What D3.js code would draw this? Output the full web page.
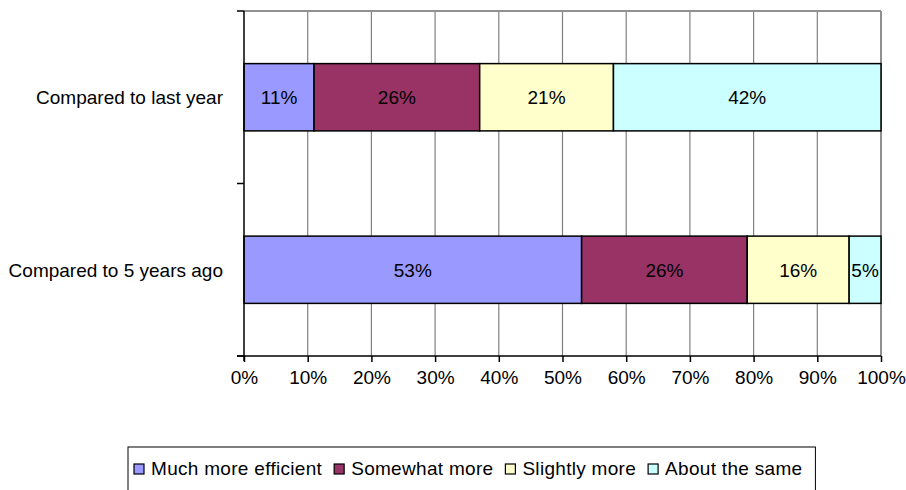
<!DOCTYPE html>
<html>
<head>
<meta charset="utf-8">
<script src="https://cdn.jsdelivr.net/npm/d3@7"></script>
<style>
  html, body { margin: 0; padding: 0; background: #fff; }
  svg text { font-family: "Liberation Sans", Arial, sans-serif; fill: #000; }
</style>
</head>
<body>
<svg id="chart" width="906" height="490"></svg>
<script>
// Survey categories (top to bottom) and stacked shares in percent
const categories = ["Compared to last year", "Compared to 5 years ago"];
const seriesNames = ["Much more efficient", "Somewhat more", "Slightly more", "About the same"];
const muchMore   = [11, 53];
const somewhat   = [26, 26];
const slightly   = [21, 16];
const aboutSame  = [42, 5];
const xTicks = [0, 10, 20, 30, 40, 50, 60, 70, 80, 90, 100];
const colors = ["#9999FF", "#993366", "#FFFFCC", "#CCFFFF"];

const seriesValues = [muchMore, somewhat, slightly, aboutSame];
const rows = categories.map((c, i) => {
  const r = { category: c };
  seriesNames.forEach((s, k) => r[s] = seriesValues[k][i]);
  return r;
});

const svg = d3.select("#chart");
const margin = { left: 244, right: 25, top: 11, bottom: 134 };
const W = 906, H = 490;
const FS = 19;

const x = d3.scaleLinear().domain([0, 100]).range([margin.left, W - margin.right]);
const y = d3.scaleBand().domain(categories)
  .range([margin.top, H - margin.bottom])
  .paddingInner(0.61).paddingOuter(0.305);

// Gridlines
svg.append("g").selectAll("line").data(xTicks.slice(1)).join("line")
  .attr("x1", d => x(d)).attr("x2", d => x(d))
  .attr("y1", margin.top).attr("y2", H - margin.bottom)
  .attr("stroke", "#808080").attr("stroke-width", 1.2);
// Plot-area top and right border
svg.append("line")
  .attr("x1", x(0)).attr("x2", x(100))
  .attr("y1", margin.top).attr("y2", margin.top)
  .attr("stroke", "#909090").attr("stroke-width", 2);
svg.append("line")
  .attr("x1", x(100)).attr("x2", x(100))
  .attr("y1", margin.top).attr("y2", H - margin.bottom)
  .attr("stroke", "#909090").attr("stroke-width", 2);

// Stacked bars
const layers = d3.stack().keys(seriesNames)(rows);
const layerG = svg.append("g").selectAll("g").data(layers).join("g")
  .attr("fill", (d, i) => colors[i]);
layerG.selectAll("rect").data(d => d).join("rect")
  .attr("x", d => x(d[0]))
  .attr("width", d => x(d[1]) - x(d[0]))
  .attr("y", d => y(d.data.category))
  .attr("height", y.bandwidth())
  .attr("stroke", "#000").attr("stroke-width", 1.5);

// Value labels
layerG.selectAll("text").data(d => d.map(v => ({ v, key: d.key }))).join("text")
  .attr("x", d => (x(d.v[0]) + x(d.v[1])) / 2)
  .attr("y", d => y(d.v.data.category) + y.bandwidth() / 2)
  .attr("dy", "0.36em")
  .attr("text-anchor", "middle")
  .attr("font-size", FS)
  .text(d => d.v.data[d.key] + "%");

// Y axis with ticks at band boundaries
const yAxisG = svg.append("g");
yAxisG.append("line")
  .attr("x1", x(0)).attr("x2", x(0))
  .attr("y1", margin.top).attr("y2", H - margin.bottom + 5)
  .attr("stroke", "#000").attr("stroke-width", 1.5);
const bandEdges = [margin.top].concat(categories.map((c, i) => margin.top + y.step() * (i + 1)));
yAxisG.selectAll("line.tick").data(bandEdges).join("line")
  .attr("class", "tick")
  .attr("x1", x(0) - 7).attr("x2", x(0))
  .attr("y1", d => d).attr("y2", d => d)
  .attr("stroke", "#000").attr("stroke-width", 1.5);
yAxisG.selectAll("text").data(categories).join("text")
  .attr("x", x(0) - 21)
  .attr("y", d => y(d) + y.bandwidth() / 2)
  .attr("dy", "0.36em")
  .attr("text-anchor", "end")
  .attr("font-size", FS)
  .text(d => d);

// X axis
const xAxis = d3.axisBottom(x).tickValues(xTicks).tickFormat(d => d + "%").tickSize(6).tickPadding(9);
const xg = svg.append("g").attr("transform", `translate(0,${H - margin.bottom})`).call(xAxis);
xg.attr("font-family", null);
xg.select(".domain").attr("stroke", "#000").attr("stroke-width", 1.5)
  .attr("d", `M${x(0) - 7},0H${x(100)}`);
xg.selectAll(".tick line").attr("stroke", "#000").attr("stroke-width", 1.5);
xg.selectAll(".tick text").attr("font-size", FS).attr("fill", "#000");

// Legend: swatch + label, laid out left to right
const legend = svg.append("g");
const lgItems = legend.selectAll("g").data(seriesNames).join("g");
lgItems.append("rect").attr("y", -4).attr("width", 10).attr("height", 10)
  .attr("fill", (d, i) => colors[i]).attr("stroke", "#000").attr("stroke-width", 1.2);
lgItems.append("text").attr("x", 17).attr("dy", "0.36em")
  .attr("font-size", FS).attr("letter-spacing", 0.3).text(d => d);
let cx = 0;
lgItems.each(function () {
  d3.select(this).attr("transform", `translate(${cx},0)`);
  cx += 17 + this.querySelector("text").getComputedTextLength() + 12;
});
const lgLeft = 134, lgMid = 468;
const boxW = 6 + cx - 12 + 13;
legend.insert("rect", ":first-child")
  .attr("x", -6).attr("y", 447 - lgMid).attr("width", boxW).attr("height", 60)
  .attr("fill", "#fff").attr("stroke", "#000").attr("stroke-width", 1);
legend.attr("transform", `translate(${lgLeft},${lgMid})`);
</script>
</body>
</html>
